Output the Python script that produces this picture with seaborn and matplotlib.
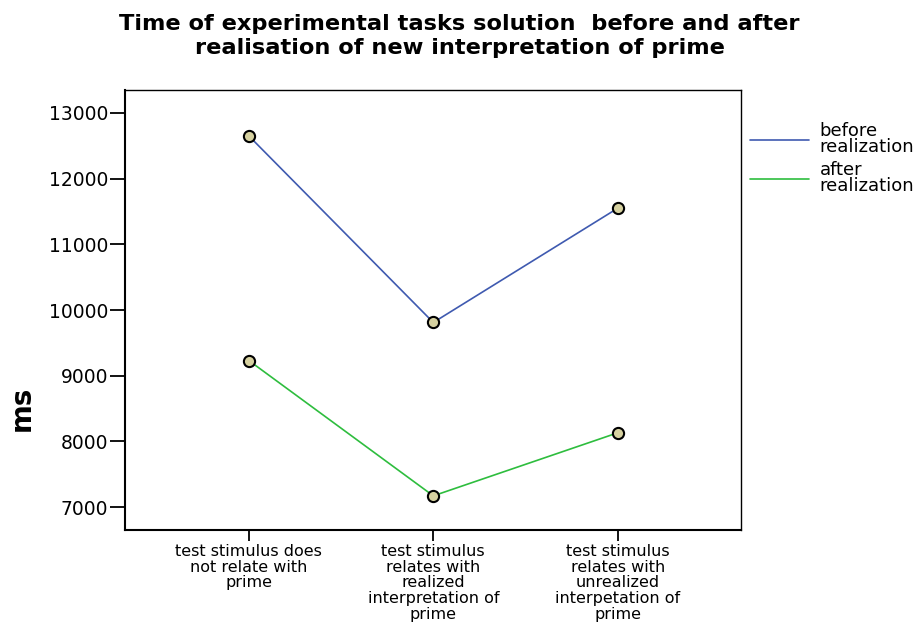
import numpy as np
import pandas as pd
import matplotlib
matplotlib.use("Agg")
import matplotlib.pyplot as plt
import seaborn as sns
from matplotlib.lines import Line2D

categories = ["test stimulus does\nnot relate with\nprime",
              "test stimulus\nrelates with\nrealized\ninterpretation of\nprime",
              "test stimulus\nrelates with\nunrealized\ninterpetation of\nprime"]
before = [12650, 9810, 11550]
after = [9230, 7170, 8130]
series = ["before\nrealization", "after\nrealization"]
yticks = [7000, 8000, 9000, 10000, 11000, 12000, 13000]

df = pd.DataFrame({
    "x": list(range(3)) * 2,
    "ms": before + after,
    "group": [series[0]] * 3 + [series[1]] * 3,
})

sns.set_style("white")
plt.rcParams['font.family'] = ['DejaVu Sans']
plt.rcParams['text.color'] = 'black'
plt.rcParams['axes.labelcolor'] = 'black'
plt.rcParams['xtick.color'] = 'black'
plt.rcParams['ytick.color'] = 'black'

fig = plt.figure(figsize=(9.19, 6.25), dpi=100)
ax = fig.add_axes([0.136, 0.152, 0.670, 0.704])

palette = {series[0]: "#3f5ab0", series[1]: "#2ebd3e"}
sns.lineplot(data=df, x="x", y="ms", hue="group", palette=palette, ax=ax,
             linewidth=1.2, legend=False)
sns.scatterplot(data=df, x="x", y="ms", ax=ax, color="#d6d1a0",
                edgecolor="black", linewidth=1.5, s=65, zorder=5, legend=False)

ax.set_xlim(-0.672, 2.667)
ax.set_ylim(6650, 13350)
ax.set_xticks(range(3))
ax.set_xticklabels(categories, fontsize=11.5, linespacing=1.06)
ax.set_yticks(yticks)
ax.set_yticklabels([str(v) for v in yticks], fontsize=13.5)
ax.tick_params(axis="y", left=True, direction="out", length=11, width=1.3, pad=1)
ax.tick_params(axis="x", bottom=True, direction="out", length=8, width=1.3, pad=2)
for s in ax.spines.values():
    s.set_color("black")
    s.set_linewidth(1.0)
ax.spines["left"].set_linewidth(1.5)
ax.spines["bottom"].set_linewidth(1.5)
ax.set_xlabel("")
ax.set_ylabel("ms", fontsize=20, fontweight="bold")
ax.yaxis.set_label_coords(-0.145, 0.277)

fig.suptitle("Time of experimental tasks solution  before and after\nrealisation of new interpretation of prime",
             fontsize=16.2, fontweight="bold", x=0.5, y=0.977, linespacing=1.22)

handles = [Line2D([], [], color=palette[k], linewidth=1.2) for k in series]
fig.legend(handles, series, loc="upper left", bbox_to_anchor=(0.816, 0.805),
           frameon=False, fontsize=13, handlelength=3.3, labelspacing=0.3,
           handletextpad=0.55, borderaxespad=0, borderpad=0)
for t in fig.legends[0].get_texts():
    t.set_linespacing(0.85)

fig.savefig("out.png", dpi=100)
